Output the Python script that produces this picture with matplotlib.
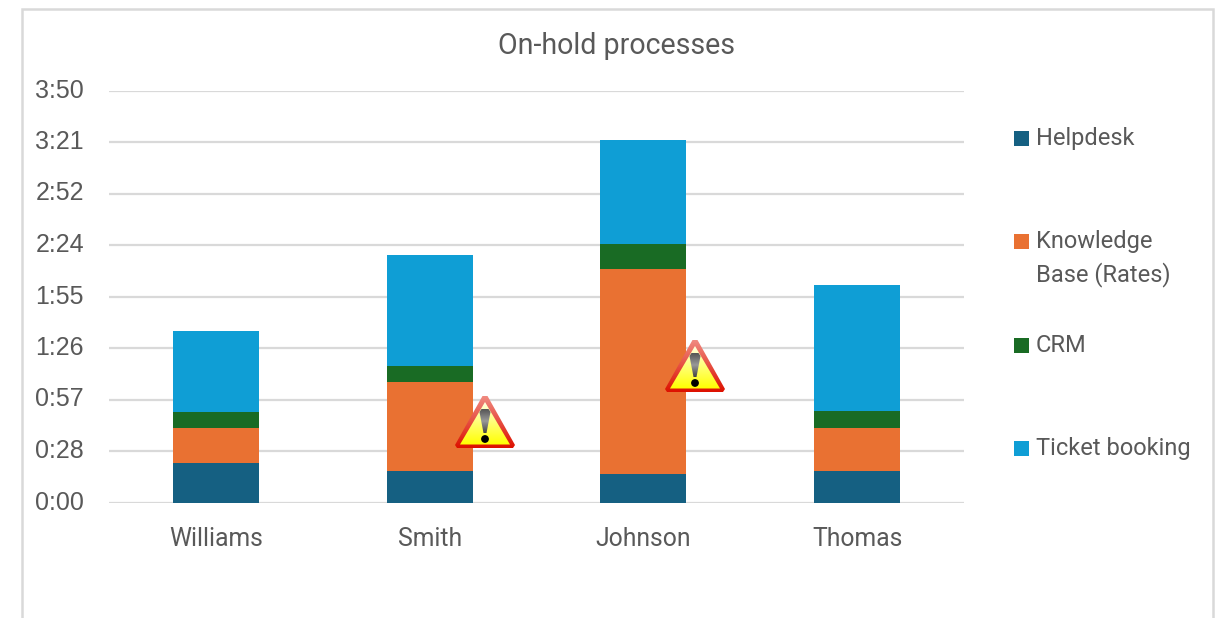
import matplotlib
matplotlib.use("Agg")
import matplotlib.pyplot as plt
import numpy as np
from matplotlib.colors import LinearSegmentedColormap
from matplotlib.patches import Circle, Polygon, Rectangle

# values are minutes on hold
agents = ["Williams", "Smith", "Johnson", "Thomas"]
helpdesk = [22.1, 17.6, 15.9, 17.6]
knowledge = [19.6, 50.0, 114.9, 24.0]
crm = [8.9, 8.9, 13.7, 9.5]
tickets = [45.3, 62.1, 58.2, 70.5]

series_names = ["Helpdesk", "Knowledge\nBase (Rates)", "CRM", "Ticket booking"]
series_colors = ["#156082", "#E97132", "#196B24", "#0F9ED5"]

y_ticks = [0, 28.8, 57.6, 86.4, 115.2, 144, 172.8, 201.6, 230.4]
y_labels = ["0:00", "0:28", "0:57", "1:26", "1:55", "2:24", "2:52", "3:21", "3:50"]

W, H = 1220, 618
TEXT = "#595959"
GRID = "#D9D9D9"
UI_FONT = "Roboto"

fig = plt.figure(figsize=(W / 100, H / 100), dpi=100, facecolor="white")
ax = fig.add_axes([109 / W, 1 - 502.5 / H, (964 - 109) / W, (502.5 - 90.5) / H])

# Stacked bars
x = np.arange(len(agents))
bottom = np.zeros(len(agents))
for vals, color in zip([helpdesk, knowledge, crm, tickets], series_colors):
    ax.bar(x, vals, 0.403, bottom=bottom, color=color, zorder=3)
    bottom += np.array(vals)

ax.set_xlim(-0.5, 3.5)
ax.set_ylim(0, 230.4)
ax.set_yticks(y_ticks)
ax.set_yticklabels(y_labels, fontsize=18, color=TEXT, family="Liberation Sans", va="center")
ax.set_xticks(x)
ax.set_xticklabels(agents, fontsize=17.8, color=TEXT, family=UI_FONT, va="baseline")
ax.tick_params(axis="y", length=0, pad=18)
ax.tick_params(axis="x", length=0, pad=31.3)
ax.grid(axis="y", color=GRID, lw=1.6, zorder=0)
ax.set_axisbelow(True)
for s in ax.spines.values():
    s.set_visible(False)

# Overlay in pixel coordinates for the frame, legend and warning signs
over = fig.add_axes([0, 0, 1, 1], zorder=5)
over.patch.set_alpha(0)
over.axis("off")

over.plot([22, 22, 1213, 1213], [H, 8.5, 8.5, H], color=GRID, lw=1.8, solid_joinstyle="miter")

over.text(617, 46, "On-hold processes", fontsize=20.6, color=TEXT, family=UI_FONT,
          ha="center", va="center")

# Legend, rows spaced evenly
for i, (name, color) in enumerate(zip(series_names, series_colors)):
    y = 138.5 + i * 103.3
    over.add_patch(Rectangle((1014, y - 7.5), 15, 15, color=color, lw=0))
    for j, line in enumerate(name.split("\n")):
        over.text(1036, y + j * 33, line, fontsize=17, color=TEXT,
                  family=UI_FONT, ha="left", va="center")


def gradient(colors, box, clip):
    cmap = LinearSegmentedColormap.from_list("g", colors)
    im = over.imshow(np.linspace(0, 1, 64).reshape(-1, 1), cmap=cmap, aspect="auto",
                     extent=box, zorder=6, interpolation="bilinear")
    im.set_clip_path(clip)


def warning_sign(cx, top):
    bot = top + 52
    outer = Polygon([(cx - 2.5, top), (cx + 2.5, top), (cx + 30, bot - 3), (cx + 28, bot),
                     (cx - 28, bot), (cx - 30, bot - 3)], closed=True,
                    transform=over.transData, fc="none", ec="none")
    inner = Polygon([(cx, top + 6), (cx + 25, bot - 3.5), (cx - 25, bot - 3.5)], closed=True,
                    transform=over.transData, fc="none", ec="none")
    mark = Polygon([(cx - 3.5, top + 13), (cx + 3.5, top + 13), (cx + 5.5, top + 16),
                    (cx + 1.5, top + 37), (cx - 1.5, top + 37), (cx - 5.5, top + 16)],
                   closed=True, transform=over.transData, fc="none", ec="none")
    for p in (outer, inner, mark):
        over.add_patch(p)
    gradient(["#F08A80", "#DD1100"], (cx - 30, cx + 30, bot, top), outer)
    gradient(["#FFFFE0", "#FFFF00"], (cx - 30, cx + 30, bot - 3, top + 6), inner)
    gradient(["#555555", "#999999", "#444444"], (cx - 6, cx + 6, top + 37, top + 13), mark)
    over.add_patch(Circle((cx, top + 43), 3.9, color="black", zorder=7, lw=0))


warning_sign(485, 396)
warning_sign(695, 340)

over.set_xlim(0, W)
over.set_ylim(H, 0)

fig.savefig("out.png", dpi=100)
